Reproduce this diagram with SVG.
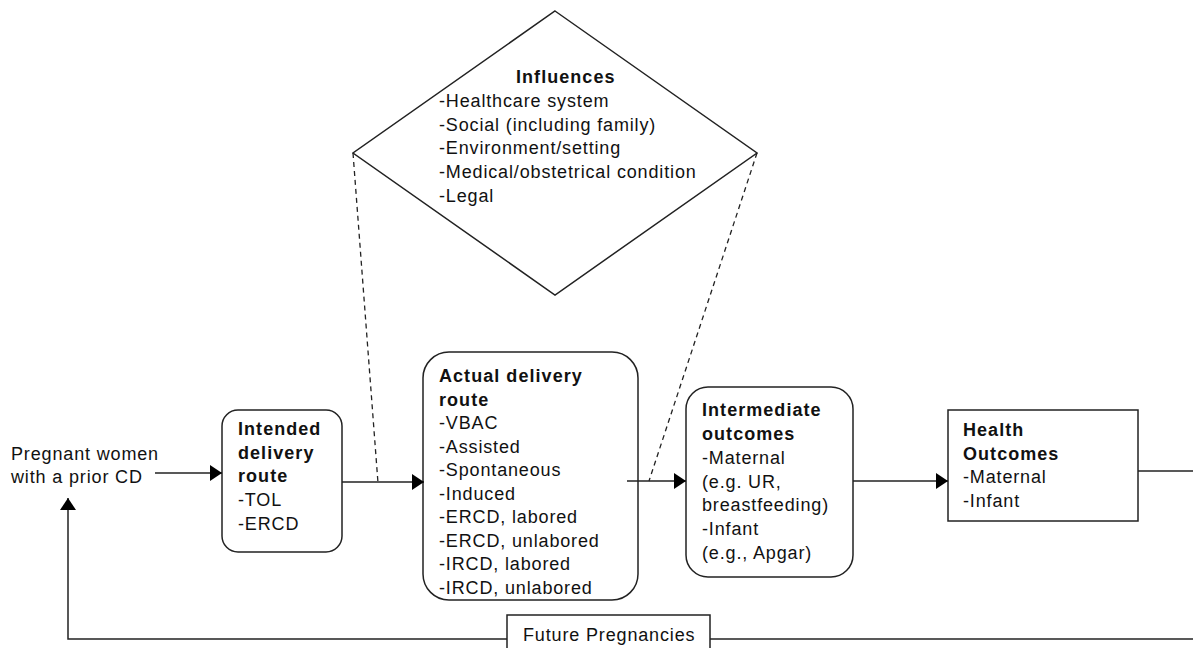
<svg xmlns="http://www.w3.org/2000/svg" width="1193" height="648" viewBox="0 0 1193 648">
<style>
text{font-family:"Liberation Sans",Arial,sans-serif;font-size:18px;fill:#111;letter-spacing:0.85px}
.b{font-weight:bold;letter-spacing:1.05px}
.box{fill:#fff;stroke:#222;stroke-width:1.5}
.ln{fill:none;stroke:#222;stroke-width:1.5}
.dash{fill:none;stroke:#222;stroke-width:1.3;stroke-dasharray:5 4}
</style>
<defs>
<marker id="ah" markerWidth="12" markerHeight="16" refX="12" refY="8" orient="auto" markerUnits="userSpaceOnUse">
<path d="M0,0 L12,8 L0,16 Z" fill="#000"/>
</marker>
</defs>
<rect width="1193" height="648" fill="#fff"/>
<g id="influences">
<polygon class="box" points="555,11 757,153 555,295 353,153"/>
<text class="b" x="516" y="83">Influences</text>
<text x="439" y="107">-Healthcare system</text>
<text x="439" y="130.5">-Social (including family)</text>
<text x="439" y="154">-Environment/setting</text>
<text x="439" y="178">-Medical/obstetrical condition</text>
<text x="439" y="201.5">-Legal</text>
</g>
<g id="pregnant">
<text x="11" y="460">Pregnant women</text>
<text x="11" y="483">with a prior CD</text>
</g>
<g id="intended">
<rect class="box" x="222" y="410" width="120" height="142" rx="16"/>
<text class="b" x="238" y="435">Intended</text>
<text class="b" x="238" y="458.5">delivery</text>
<text class="b" x="238" y="482">route</text>
<text x="238" y="506">-TOL</text>
<text x="238" y="530">-ERCD</text>
</g>
<g id="actual">
<rect class="box" x="423" y="352" width="215" height="248" rx="26"/>
<text class="b" x="439" y="382">Actual delivery</text>
<text class="b" x="439" y="405.5">route</text>
<text x="439" y="429">-VBAC</text>
<text x="439" y="452.5">-Assisted</text>
<text x="439" y="476">-Spontaneous</text>
<text x="439" y="499.5">-Induced</text>
<text x="439" y="523">-ERCD, labored</text>
<text x="439" y="546.5">-ERCD, unlabored</text>
<text x="439" y="570">-IRCD, labored</text>
<text x="439" y="593.5">-IRCD, unlabored</text>
</g>
<g id="intermediate">
<rect class="box" x="686" y="387" width="167" height="190" rx="22"/>
<text class="b" x="702" y="416">Intermediate</text>
<text class="b" x="702" y="440">outcomes</text>
<text x="702" y="464">-Maternal</text>
<text x="702" y="487.5">(e.g. UR,</text>
<text x="702" y="511">breastfeeding)</text>
<text x="702" y="535">-Infant</text>
<text x="702" y="558.5">(e.g., Apgar)</text>
</g>
<g id="health">
<rect class="box" x="948" y="410" width="190" height="111"/>
<text class="b" x="963" y="436">Health</text>
<text class="b" x="963" y="460">Outcomes</text>
<text x="963" y="483">-Maternal</text>
<text x="963" y="507">-Infant</text>
</g>
<g id="future">
<rect class="box" x="507" y="615" width="203" height="40"/>
<text x="523" y="641">Future Pregnancies</text>
</g>
<g id="connectors">
<line class="ln" x1="155" y1="473" x2="222" y2="473" marker-end="url(#ah)"/>
<line class="ln" x1="342" y1="482" x2="424" y2="482" marker-end="url(#ah)"/>
<line class="ln" x1="627" y1="481" x2="686" y2="481" marker-end="url(#ah)"/>
<line class="ln" x1="853" y1="481" x2="948" y2="481" marker-end="url(#ah)"/>
<line class="ln" x1="1138" y1="471" x2="1193" y2="471"/>
<polyline class="ln" points="1193,639 710,639"/>
<polyline class="ln" points="507,639 68,639 68,498" marker-end="url(#ah)"/>
<line class="dash" x1="353" y1="153" x2="378" y2="483"/>
<line class="dash" x1="757" y1="153" x2="649" y2="481"/>
</g>
</svg>
